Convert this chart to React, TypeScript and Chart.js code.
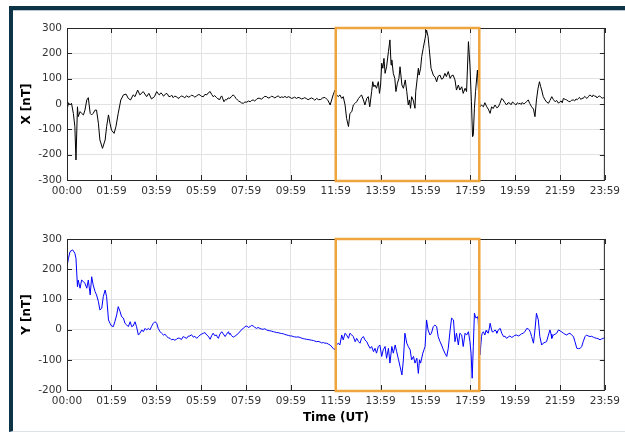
import React, { useEffect, useRef } from 'react';
import { Chart, registerables } from 'chart.js';

Chart.register(...registerables);

// ---- Data (minutes since 00:00 UT, nT) ----
// X component (top panel)
const xTimes = [
  0, 4, 8, 12, 17, 21, 24, 28, 30, 35, 39, 44, 48, 53, 57, 62, 66, 70, 75, 79,
  84, 88, 95, 102, 106, 111, 115, 119, 126, 131, 137, 144, 151, 158, 164, 170, 177, 182, 189, 195,
  204, 213, 219, 226, 234,
  240, 244, 247, 251, 255, 258, 262, 265, 269, 272,
  276, 280, 284, 288, 293, 297, 302, 306, 311, 315,
  320, 324, 329, 333, 338, 342, 347, 351, 356, 360,
  365, 369, 374, 378, 383, 387, 391, 395, 400, 404,
  409, 411, 414, 417, 420, 424, 427, 431, 436, 440,
  445, 449, 452, 456, 459, 463, 467, 472, 476, 481,
  485, 490, 494, 498, 502, 507, 511, 516, 520, 525,
  529, 534, 538, 543, 547, 552, 556, 561, 565, 570,
  574, 579, 583, 588, 592, 597, 601, 605, 609, 614,
  618, 623, 627, 632, 636, 641, 645, 650, 654, 659,
  663, 668, 673, 679, 684, 690, 694, 698,
  704, 712, 717, 721, 726, 730, 735, 739, 744, 748,
  753, 757, 762, 766, 771, 775, 780, 784, 788, 793,
  797, 802, 806, 810, 815, 818, 821, 824, 828, 833,
  836, 839, 842, 845, 848, 851, 855, 860, 864, 867,
  869, 873, 877, 880, 884, 888, 891, 896, 900, 905,
  909, 913, 916, 919, 922, 926, 931, 933, 937, 940,
  942, 946, 949, 953, 958, 962, 966, 969, 974, 980,
  985, 989, 993, 998, 1002, 1006, 1011, 1015, 1020, 1025,
  1029, 1033, 1038, 1042, 1047, 1051, 1056, 1060, 1065, 1069,
  1074, 1078, 1082, 1085, 1087, 1090, 1093, 1098, 1101, 1105,
  1109,
  1114, 1118, 1123, 1127, 1132, 1136, 1140, 1145, 1150, 1154,
  1158, 1163, 1167, 1171, 1176, 1180, 1185, 1188, 1192, 1198,
  1201, 1205, 1208, 1212, 1215, 1218, 1222, 1225, 1229, 1234,
  1238, 1243, 1248, 1252, 1256, 1260, 1264, 1267, 1270, 1274,
  1279, 1283, 1288, 1292, 1297, 1301, 1306, 1310, 1315, 1318,
  1322, 1325, 1328, 1333, 1337, 1341, 1346, 1350, 1355, 1358,
  1362, 1365, 1368, 1371, 1375, 1378, 1381, 1385, 1388, 1391,
  1395, 1398, 1402, 1405, 1408, 1412, 1415, 1418, 1421, 1425,
  1428, 1432, 1435, 1439,
];
const xValues = [
  -24, 5, -4, 3, -37, -89, -221, -11, -50, -30, -37, -43, -24, 16, 25, -37, -43, -37, -24, -24,
  -76, -142, -175, -142, -89, -43, -76, -103, -116, -89, -37, 16, 36, 39, 22, 16, 36, 29, 55, 36,
  49, 29, 42, 20, 29,
  49, 40, 36, 44, 39, 31, 36, 42, 39, 30,
  29, 35, 25, 31, 29, 22, 26, 32, 29, 24,
  33, 27, 29, 35, 32, 27, 32, 37, 36, 30,
  29, 38, 36, 44, 49, 38, 29, 33, 26, 20,
  18, 27, 32, 20, 9, 18, 16, 24, 22, 30,
  36, 29, 22, 16, 12, 9, 4, 3, 8, 7,
  12, 9, 14, 16, 12, 18, 23, 22, 19, 25,
  30, 29, 24, 25, 31, 28, 24, 29, 32, 25,
  28, 26, 30, 25, 29, 26, 22, 24, 27, 22,
  26, 24, 20, 22, 25, 21, 17, 21, 24, 20,
  15, 22, 17, 18, 24, 26, 20, 15,
  -4, 36, 55, 36, 29, 36, 22, 29, -4, -57,
  -89, -37, -30, -4, 3, 9, 22, 29, 36, 16,
  -4, 22, 29, -11, 49, 88, 68, 75, 62, 88,
  42, 75, 161, 141, 180, 121, 147, 207, 253, 154,
  174, 121, 101, 49, 82, 101, 147, 75, 62, 95,
  49, -4, 16, -17, 29, 16, -17, 49, 101, 141,
  114, 141, 187, 220, 259, 292, 266, 220, 141, 114,
  105, 88, 110, 114, 98, 101, 121, 108, 128, 101,
  112, 114, 95, 55, 75, 55, 68, 42, 62, 49,
  246, 154, 9, -129, -122, -17, 49, 134, 49, -11,
  -4,
  -11, 5, -11, -20, -37, -11, -18, -4, -15, -11,
  2, 22, 16, 6, -4, 5, 3, -3, 8, 0,
  -4, 5, 1, 3, -2, 6, 0, 3, 9, 16,
  2, -11, -20, -50, 16, 60, 88, 70, 55, 30,
  16, 8, 3, 14, 29, 18, 9, 14, 3, 8,
  12, 5, 22, 18, 16, 11, 9, 15, 16, 12,
  20, 17, 22, 26, 18, 23, 22, 30, 26, 22,
  29, 35, 33, 28, 36, 30, 31, 24, 29, 32,
  27, 23, 25, 22,
];

// Y component (bottom panel)
const yTimes = [
  0, 4, 8, 15, 21, 24, 28, 30, 35, 39,
  44, 48, 53, 57, 62, 66, 70, 75, 79, 84,
  88, 93, 97, 102, 106, 111, 115, 119, 124, 128,
  133, 137, 142, 146, 151, 155, 160, 164, 169, 173,
  177, 182, 186, 191, 195, 200, 204, 209, 213, 218,
  222, 226, 231, 235, 240,
  244, 249, 253, 258, 262, 267, 271, 276, 280, 284,
  288, 293, 297, 302, 306, 311, 315, 320, 324, 329,
  333, 338, 342, 347, 351, 356, 360, 365, 369, 374,
  378, 383, 387, 391, 395, 400, 402, 405, 409, 414,
  418, 423, 427, 432, 434, 436, 440, 445, 449, 454,
  458, 463, 467, 472, 476, 481, 485, 490, 494, 498,
  502, 507, 511, 516, 520, 525, 529, 534, 538, 543,
  547, 552, 556, 561, 565, 570, 574, 579, 583, 588,
  592, 597, 601, 605, 609, 614, 618, 623, 627, 632,
  636, 641, 645, 650, 654, 659, 663, 668, 672, 677,
  681, 686, 690, 695, 699, 704,
  712, 716, 721, 726, 730, 735, 739, 744, 748, 753,
  757, 762, 766, 771, 775, 780, 784, 788, 793, 797,
  802, 806, 811, 815, 820, 824, 828, 833, 837, 842,
  846, 851, 855, 860, 864, 869, 873, 878, 882, 887,
  891, 896, 900, 904, 909, 913, 918, 922, 927, 931,
  936, 940, 943, 946, 952, 955, 958, 962, 966, 971,
  975, 980, 984, 989, 993, 998, 1002, 1007, 1011, 1016,
  1020, 1025, 1029, 1034, 1038, 1042, 1047, 1051, 1056, 1060,
  1065, 1069, 1074, 1078, 1081, 1084, 1087, 1090, 1094, 1098,
  1100,
  1105, 1109, 1111, 1114, 1118, 1121, 1123, 1127, 1130, 1132,
  1136, 1138, 1141, 1145, 1148, 1150, 1154, 1159, 1163, 1168,
  1172, 1176, 1180, 1185, 1190, 1194, 1198, 1203, 1208, 1212,
  1216, 1221, 1226, 1230, 1234, 1237, 1240, 1243, 1248, 1252,
  1256, 1258, 1261, 1265, 1270, 1274, 1279, 1283, 1288, 1292,
  1295, 1297, 1301, 1306, 1310, 1315, 1319, 1324, 1328, 1332,
  1337, 1341, 1346, 1350, 1355, 1359, 1364, 1368, 1373, 1377,
  1381, 1386, 1390, 1394, 1399, 1403, 1408, 1412, 1417, 1421,
  1426, 1430, 1435, 1439,
];
const yValues = [
  209, 236, 258, 264, 253, 236, 142, 164, 137, 164,
  159, 153, 137, 164, 115, 175, 148, 126, 115, 93,
  65, 71, 109, 131, 109, 32, 21, 12, 10, 26,
  49, 76, 60, 43, 38, 21, 15, 10, 26, 10,
  12, 26, 10, -18, -12, -1, -7, 4, -1, 4,
  -1, 10, 21, 26, 21,
  4, -7, -12, -18, -15, -23, -27, -29, -34, -32,
  -35, -32, -28, -29, -33, -23, -26, -29, -22, -21,
  -17, -25, -22, -29, -24, -18, -15, -12, -10, -18,
  -22, -32, -20, -12, -20, -18, -24, -29, -15, -7,
  -14, -23, -15, -7, -15, -12, -20, -25, -22, -18,
  -12, -7, 0, 4, 10, 12, 7, 10, 14, 12,
  8, 4, 7, 4, 2, 1, 3, -1, -3, -4,
  -5, -7, -8, -10, -10, -12, -13, -14, -16, -18,
  -19, -21, -21, -23, -24, -25, -24, -26, -28, -30,
  -31, -32, -33, -34, -35, -36, -38, -40, -39, -41,
  -44, -43, -45, -45, -48, -51,
  -62, -67, -51, -45, -51, -18, -34, -12, -18, -29,
  -12, -18, -23, -40, -29, -40, -45, -29, -23, -34,
  -40, -51, -62, -56, -73, -62, -78, -56, -51, -89,
  -67, -56, -95, -62, -111, -56, -78, -51, -73, -100,
  -122, -150, -100, -12, -45, -56, -67, -100, -89, -111,
  -95, -145, -100, -111, -78, -67, -56, 32, -1, -18,
  -12, 10, 15, 10, -23, -40, -51, -67, -78, -89,
  -62, -1, 38, 32, -40, -12, -51, -12, -18, -56,
  -12, -18, -7, -40, -78, -161, -56, 54, 38, 43,
  32,
  -84, -23, -12, -7, -18, -3, -7, -12, 5, 21,
  -1, -8, -7, -1, -5, -12, -1, 4, -12, -23,
  -22, -29, -25, -21, -26, -23, -19, -18, -21, -18,
  -14, -12, -5, 4, 2, -1, -10, -23, -45, -1,
  54, 45, 32, -23, -51, -45, -42, -40, -18, -1,
  -15, -29, -18, -15, -12, -1, -4, -8, -12, -15,
  -18, -14, -12, -18, -23, -40, -62, -63, -62, -56,
  -40, -23, -18, -21, -23, -22, -25, -27, -29, -30,
  -34, -31, -29, -25,
];

const timeTicks = [0, 119, 239, 359, 479, 599, 719, 839, 959, 1079, 1199, 1319, 1439];
const timeTickLabels = ['00:00', '01:59', '03:59', '05:59', '07:59', '09:59', '11:59', '13:59', '15:59', '17:59', '19:59', '21:59', '23:59'];
const xPanelTicks = [-300, -200, -100, 0, 100, 200, 300];
const yPanelTicks = [-200, -100, 0, 100, 200, 300];
const highlightRange = [719, 1103];

const FONT = "'DejaVu Sans', sans-serif";

const panelPlugin = {
  id: 'panelFrame',
  afterDraw(chart: any) {
    const { ctx, chartArea: a, scales } = chart;
    const xs = scales.x;
    const ys = scales.y;
    ctx.save();
    ctx.strokeStyle = '#262626';
    ctx.lineWidth = 1;
    ctx.beginPath();
    const L = 5;
    for (const t of xs.ticks) {
      const px = Math.round(xs.getPixelForValue(t.value)) + 0.5;
      ctx.moveTo(px, a.bottom);
      ctx.lineTo(px, a.bottom - L);
      ctx.moveTo(px, a.top);
      ctx.lineTo(px, a.top + L);
    }
    for (const t of ys.ticks) {
      const py = Math.round(ys.getPixelForValue(t.value)) + 0.5;
      ctx.moveTo(a.left, py);
      ctx.lineTo(a.left + L, py);
      ctx.moveTo(a.right, py);
      ctx.lineTo(a.right - L, py);
    }
    ctx.stroke();
    ctx.strokeRect(a.left + 0.5, a.top + 0.5, a.right - a.left - 1, a.bottom - a.top);
    // highlighted interval
    const x0 = xs.getPixelForValue(highlightRange[0]);
    const x1 = xs.getPixelForValue(highlightRange[1]);
    ctx.strokeStyle = '#EFA53E';
    ctx.lineWidth = 2.5;
    ctx.strokeRect(x0, a.top, x1 - x0, a.bottom - a.top + 1);
    ctx.restore();
  },
};

function makeChart(
  canvas: HTMLCanvasElement,
  times: number[],
  values: number[],
  color: string,
  yTicks: number[],
  yTitle: string,
  padTop: number,
  padBottom: number,
  showXTitle: boolean,
) {
  const data = times.map((t, i) => ({ x: t, y: values[i] }));
  const tickFont = { family: FONT, size: 10.5 };
  return new Chart(canvas, {
    type: 'line',
    data: {
      datasets: [
        {
          data,
          borderColor: color,
          borderWidth: 1,
          pointRadius: 0,
          tension: 0,
          fill: false,
        },
      ],
    },
    options: {
      responsive: false,
      animation: false,
      devicePixelRatio: 1,
      layout: { padding: { left: 20, right: 20, top: padTop, bottom: padBottom } },
      plugins: { legend: { display: false }, tooltip: { enabled: false } },
      scales: {
        x: {
          type: 'linear',
          min: 0,
          max: 1439,
          afterBuildTicks: (s: any) => {
            s.ticks = timeTicks.map((v) => ({ value: v }));
          },
          afterFit: (s: any) => {
            s.height = 35;
          },
          ticks: {
            autoSkip: false,
            maxRotation: 0,
            padding: 5,
            color: '#333333',
            font: tickFont,
            callback: (_v: any, i: number) => timeTickLabels[i],
          },
          grid: { color: '#e2e2e2', drawTicks: false },
          border: { display: false },
          title: {
            display: showXTitle,
            text: 'Time (UT)',
            color: '#000',
            font: { family: FONT, size: 12, weight: 'bold' },
            padding: 0,
          },
        },
        y: {
          type: 'linear',
          min: yTicks[0],
          max: yTicks[yTicks.length - 1],
          afterBuildTicks: (s: any) => {
            s.ticks = yTicks.map((v) => ({ value: v }));
          },
          afterFit: (s: any) => {
            s.width = 47;
          },
          ticks: {
            padding: 5,
            color: '#333333',
            font: tickFont,
            callback: (v: any) => String(v),
          },
          grid: { color: '#e2e2e2', drawTicks: false },
          border: { display: false },
          title: {
            display: true,
            text: yTitle,
            color: '#000',
            font: { family: FONT, size: 12, weight: 'bold' },
            padding: 0,
          },
        },
      },
    } as any,
    plugins: [panelPlugin],
  });
}

export default function App() {
  const topRef = useRef<HTMLCanvasElement>(null);
  const botRef = useRef<HTMLCanvasElement>(null);

  useEffect(() => {
    const c1 = makeChart(topRef.current!, xTimes, xValues, '#000000', xPanelTicks, 'X [nT]', 28, 0, false);
    const c2 = makeChart(botRef.current!, yTimes, yValues, '#0000ff', yPanelTicks, 'Y [nT]', 24, 8, true);
    return () => {
      c1.destroy();
      c2.destroy();
    };
  }, []);

  return (
    <div style={{ position: 'absolute', left: 0, top: 0, width: 625, height: 433, background: '#fff', overflow: 'hidden' }}>
      <div
        style={{
          position: 'absolute',
          left: 9,
          top: 6,
          width: 640,
          height: 421,
          borderTop: '4px solid #0d3347',
          borderLeft: '4px solid #0d3347',
          borderBottom: '1px solid #dde2e6',
        }}
      />
      <div style={{ position: 'absolute', left: 13, top: 10, width: 620, height: 1, background: '#b8c5cd' }} />
      <canvas
        ref={topRef}
        width={625}
        height={215}
        style={{ position: 'absolute', left: 0, top: 0, width: 625, height: 215 }}
      />
      <canvas
        ref={botRef}
        width={625}
        height={218}
        style={{ position: 'absolute', left: 0, top: 215, width: 625, height: 218 }}
      />
    </div>
  );
}
